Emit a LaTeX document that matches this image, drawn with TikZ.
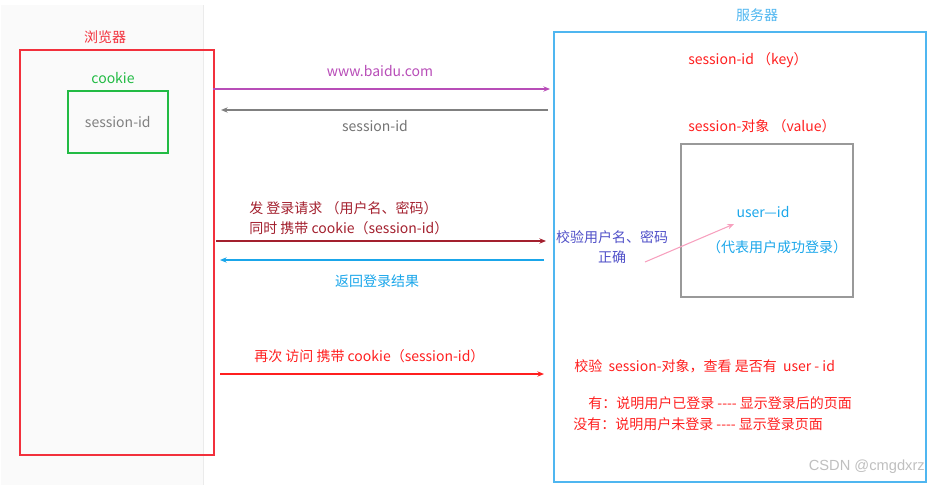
\documentclass[tikz,border=0pt]{standalone}
\usepackage{fontspec}
\setmainfont{Noto Sans CJK SC}
\newfontfamily\markfont{Liberation Sans}
\usetikzlibrary{arrows.meta,positioning}
\definecolor{brwred}{HTML}{F2303C}
\definecolor{txtred}{HTML}{FF1F1F}
\definecolor{ckgreen}{HTML}{22BB44}
\definecolor{srvblue}{HTML}{4FB6F0}
\definecolor{reqred}{HTML}{A3202E}
\definecolor{urlpurple}{HTML}{B84DB8}
\definecolor{resblue}{HTML}{1AA6EA}
\definecolor{chkblue}{HTML}{5050C8}
\definecolor{hintpink}{HTML}{F7A0BE}
\newcommand{\dashes}{-{}-{}-{}-}
\tikzset{
lbl/.style={font=\fontsize{10.5}{15}\selectfont,inner sep=0pt},
box/.style={draw,line width=1.2pt},
msgarrow/.style={-{Stealth[length=5pt,width=4pt]},line width=1pt},
}

\begin{document}
\begin{tikzpicture}[x=0.75pt,y=-0.75pt]
\useasboundingbox (0,0) rectangle (930,485);
% left panel
\fill[fill=black!2] (1,5) rectangle (203,485);
\draw[black!8] (203,5)--(203,485);
% browser
\node[lbl,text=brwred] (brwlbl) at (105,37) {浏览器};
\node[box,draw=brwred,minimum width=145.5pt,minimum height=303.75pt,anchor=north west] (browser) at (19,49) {};
\node[lbl,text=ckgreen] (cklbl) at (113,78) {cookie};
\node[box,draw=ckgreen,minimum width=75pt,minimum height=46.5pt,anchor=north west,text=black!50,lbl] (cookie) at (67,90) {session-id};
% server
\node[lbl,text=srvblue] (srvlbl) at (757,15) {服务器};
\node[box,draw=srvblue,minimum width=279pt,minimum height=337.5pt,anchor=north west] (server) at (553,31) {};
\node[lbl,text=txtred] (key) at (748,60) {session-id （key）};
\node[lbl,text=txtred] (value) at (762,126) {session-对象 （value）};
\node[box,draw=black!40,minimum width=129pt,minimum height=114.75pt,anchor=north west] (sess) at (680,143) {};
\node[lbl,text=resblue] (uid) at (763,212) {user—id};
\node[lbl,text=resblue] (ok) at (777,247) {（代表用户成功登录）};
\node[lbl,text=chkblue,align=center] (chk) at (612,247) {校验用户名、密码\\正确};
\coordinate (pk1) at (645,262);
\coordinate (pk2) at (734,224);
\draw[-{Stealth[length=5pt,width=4pt]},hintpink,line width=0.8pt] (pk1)--(pk2);
% messages
\coordinate (a1) at (213,89);  \coordinate (b1) at (550,89);
\coordinate (a2) at (221,110); \coordinate (b2) at (548,110);
\coordinate (a3) at (216,241); \coordinate (b3) at (546,241);
\coordinate (a4) at (220,260); \coordinate (b4) at (544,260);
\coordinate (a5) at (220,374); \coordinate (b5) at (544,374);
\draw[msgarrow,urlpurple] (a1)--(b1);
\node[lbl,text=urlpurple] (url) at (380,71) {www.baidu.com};
\draw[msgarrow,black!50] (b2)--(a2);
\node[lbl,text=black!55] (sid) at (375,126) {session-id};
\draw[msgarrow,reqred] (a3)--(b3);
\node[lbl,text=reqred,align=left,anchor=west] (req) at (249,218) {发 登录请求 （用户名、密码）\\同时 携带 cookie（session-id）};
\draw[msgarrow,resblue] (b4)--(a4);
\node[lbl,text=resblue] (res) at (377,281) {返回登录结果};
\draw[msgarrow,txtred] (a5)--(b5);
\node[lbl,text=txtred,anchor=west] (again) at (254,356) {再次 访问 携带 cookie（session-id）};
% server check
\node[lbl,text=txtred,anchor=west] (check) at (574,366) {校验\ \ session-对象，查看 是否有\ \ user - id};
\node[lbl,text=txtred,anchor=west] (yes) at (588,403) {有：说明用户已登录 \dashes{} 显示登录后的页面};
\node[lbl,text=txtred,anchor=west] (no) at (573,424) {没有：说明用户未登录 \dashes{} 显示登录页面};
\node[text=black!25,font=\markfont\fontsize{11}{13}\selectfont,inner sep=0pt,anchor=east] (mark) at (925,467) {CSDN @cmgdxrz};
\end{tikzpicture}
\end{document}
